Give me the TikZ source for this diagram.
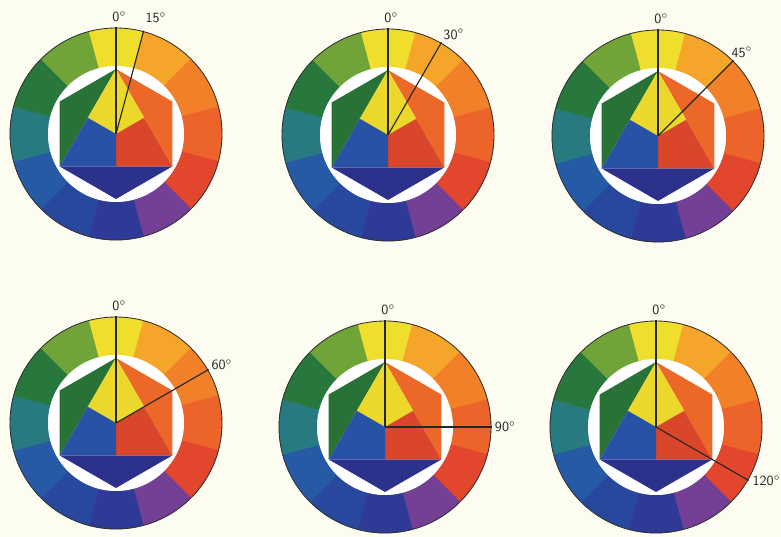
\documentclass[tikz,border=0pt]{standalone}
\usepackage{tikz}
\usetikzlibrary{calc}
\definecolor{paper}{RGB}{253,252,240}
% ring, yellow on top, then clockwise
\definecolor{cY}{RGB}{240,222,44}
\definecolor{cYO}{RGB}{245,166,42}
\definecolor{cO}{RGB}{241,128,40}
\definecolor{cRO}{RGB}{236,100,42}
\definecolor{cR}{RGB}{226,70,44}
\definecolor{cRV}{RGB}{116,64,150}
\definecolor{cV}{RGB}{46,58,150}
\definecolor{cBV}{RGB}{40,72,158}
\definecolor{cB}{RGB}{38,90,165}
\definecolor{cBG}{RGB}{38,122,128}
\definecolor{cG}{RGB}{40,120,62}
\definecolor{cYG}{RGB}{112,164,56}
% star in the middle
\definecolor{sY}{RGB}{236,216,42}
\definecolor{sR}{RGB}{218,70,42}
\definecolor{sB}{RGB}{40,82,165}
\definecolor{sO}{RGB}{236,104,40}
\definecolor{sG}{RGB}{40,114,54}
\definecolor{sV}{RGB}{44,50,140}
\tikzset{>=latex}
\tikzset{
  rim/.style={draw=black!80, line width=0.6pt},
  ray/.style={draw=black!85, line width=0.8pt},
  deg/.style={font=\sffamily\normalsize, inner sep=0.5pt, text=black!85}
}
\newcommand{\ringout}{106}
\newcommand{\ringin}{68}
\newcommand{\hexr}{65}
% #1 centre, #2 name, #3 angle, #4 offset of the angle label
\newcommand{\ittenwheel}[4]{%
  \begin{scope}[shift={(#1)}]
    \foreach \col [count=\i from 0] in {cY,cYO,cO,cRO,cR,cRV,cV,cBV,cB,cBG,cG,cYG}
      \filldraw[fill=\col, draw=\col, line width=0.3pt]
        ({105-30*\i}:\ringout) arc[start angle={105-30*\i}, delta angle=-30, radius=\ringout]
        -- ({75-30*\i}:\ringin) arc[start angle={75-30*\i}, delta angle=30, radius=\ringin] -- cycle;
    \fill[white] (0,0) circle[radius=\ringin];
    \draw[rim] (0,0) circle[radius=\ringout];
    % mixtures
    \fill[sO] (90:\hexr) -- (30:\hexr) -- (-30:\hexr) -- cycle;
    \fill[sG] (90:\hexr) -- (150:\hexr) -- (210:\hexr) -- cycle;
    \fill[sV] (210:\hexr) -- (270:\hexr) -- (-30:\hexr) -- cycle;
    % primaries
    \fill[sY] (90:\hexr) -- (30:\hexr/2) -- (0,0) -- (150:\hexr/2) -- cycle;
    \fill[sR] (-30:\hexr) -- (270:\hexr/2) -- (0,0) -- (30:\hexr/2) -- cycle;
    \fill[sB] (210:\hexr) -- (150:\hexr/2) -- (0,0) -- (270:\hexr/2) -- cycle;
    \coordinate (#2-c) at (0,0);
    \coordinate (#2-top) at (90:107);
    \coordinate (#2-end) at ({90-#3}:107);
    \draw[ray] (#2-c) -- (#2-top);
    \draw[ray] (#2-c) -- (#2-end);
    \node[deg, anchor=south] (#2-zero) at ($(#2-top)+(0,4)$) {0\rlap{$^\circ$}};
    \node[deg, anchor=west] (#2-angle) at ($(#2-end)+(#4)$) {#3$^\circ$};
  \end{scope}}

\begin{document}
\begin{tikzpicture}[x=0.025cm, y=0.025cm]
  \fill[paper] (0,0) rectangle (781,537);
  \useasboundingbox (0,0) rectangle (781,537);
  \ittenwheel{116,403}{wa}{15}{1,13}
  \ittenwheel{388,402}{wb}{30}{1,8}
  \ittenwheel{658,401}{wc}{45}{-3,8}
  \ittenwheel{116,114}{wd}{60}{2,5}
  \ittenwheel{385,110}{we}{90}{2,0}
  \ittenwheel{656,110}{wf}{120}{3,0}
\end{tikzpicture}
\end{document}
